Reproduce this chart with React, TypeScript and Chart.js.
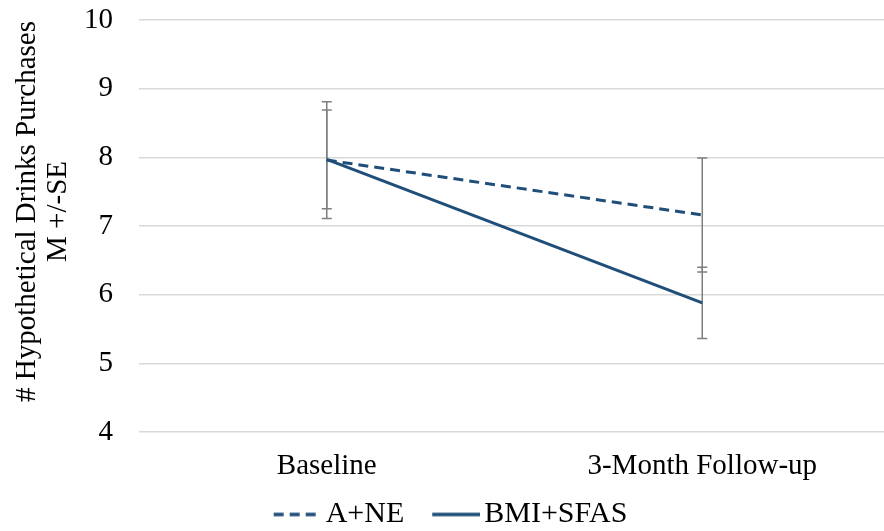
import React, { useEffect, useRef } from "react";
import { Chart, registerables } from "chart.js";

Chart.register(...registerables);

const categories = ["Baseline", "3-Month Follow-up"];
const seriesNames = ["A+NE", "BMI+SFAS"];
const aneMeans = [7.96, 7.16];
const aneSE = [0.85, 0.83];
const bmiMeans = [7.97, 5.88];
const bmiSE = [0.72, 0.52];
const yTicks = [4, 5, 6, 7, 8, 9, 10];
const yTitle = ["    # Hypothetical Drinks Purchases", "    M +/-SE"];

const LINE_COLOR = "#1f4e79";
const ERR_COLOR = "#7f7f7f";
const FONT = "'Liberation Serif', 'Times New Roman', serif";
const DASH = [10, 6];

function legendMarker(dash: number[]) {
  const c = document.createElement("canvas");
  c.width = 70;
  c.height = 6;
  const g = c.getContext("2d")!;
  g.strokeStyle = LINE_COLOR;
  g.lineWidth = 3.5;
  g.setLineDash(dash);
  g.beginPath();
  g.moveTo(22, 3);
  g.lineTo(70, 3);
  g.stroke();
  return c;
}

const errorBarPlugin = {
  id: "errorBars",
  beforeDatasetsDraw(chart: any) {
    const { ctx, scales } = chart;
    const x = scales.x;
    const y = scales.y;
    const sets = [
      { m: aneMeans, e: aneSE },
      { m: bmiMeans, e: bmiSE },
    ];
    ctx.save();
    ctx.strokeStyle = ERR_COLOR;
    ctx.lineWidth = 1.5;
    sets.forEach((s) => {
      s.m.forEach((mean, i) => {
        const px = x.getPixelForValue(i);
        const top = y.getPixelForValue(mean + s.e[i]);
        const bot = y.getPixelForValue(mean - s.e[i]);
        ctx.beginPath();
        ctx.moveTo(px, top);
        ctx.lineTo(px, bot);
        ctx.moveTo(px - 5, top);
        ctx.lineTo(px + 5, top);
        ctx.moveTo(px - 5, bot);
        ctx.lineTo(px + 5, bot);
        ctx.stroke();
      });
    });
    ctx.restore();
  },
};

export default function App() {
  const ref = useRef<HTMLCanvasElement | null>(null);
  useEffect(() => {
    document.body.style.margin = "0";
    const markers = [legendMarker(DASH), legendMarker([])];
    const chart = new Chart(ref.current!, {
      type: "line",
      data: {
        labels: categories,
        datasets: [
          {
            label: seriesNames[0],
            data: aneMeans,
            borderColor: LINE_COLOR,
            backgroundColor: LINE_COLOR,
            borderWidth: 3,
            borderDash: DASH,
            pointRadius: 0,
            fill: false,
          },
          {
            label: seriesNames[1],
            data: bmiMeans,
            borderColor: LINE_COLOR,
            backgroundColor: LINE_COLOR,
            borderWidth: 3,
            pointRadius: 0,
            fill: false,
          },
        ],
      },
      options: {
        animation: false,
        responsive: true,
        maintainAspectRatio: false,
        layout: { padding: { left: 0, right: 0, top: 20, bottom: -8.5 } },
        plugins: {
          tooltip: { enabled: false },
          legend: {
            position: "bottom",
            labels: {
              color: "#000",
              font: { family: FONT, size: 30 },
              usePointStyle: true,
              pointStyleWidth: 48,
              padding: 17,
              generateLabels: (chart: any) =>
                chart.data.datasets.map((ds: any, i: number) => ({
                  text: ds.label,
                  fillStyle: LINE_COLOR,
                  strokeStyle: LINE_COLOR,
                  lineWidth: 0,
                  pointStyle: markers[i],
                  fontColor: "#000",
                  datasetIndex: i,
                  hidden: false,
                })),
            },
          },
        },
        scales: {
          x: {
            offset: true,
            grid: { display: false, drawTicks: false },
            border: { display: false },
            ticks: {
              color: "#000",
              font: { family: FONT, size: 29 },
              padding: 16.6,
            },
            afterFit: (scale: any) => {
              scale.height = 50.5;
              scale.paddingLeft = 0;
              scale.paddingRight = 0;
            },
          },
          y: {
            min: 4,
            max: 10,
            afterBuildTicks: (axis: any) => {
              axis.ticks = yTicks.map((v) => ({ value: v }));
            },
            afterFit: (scale: any) => {
              scale.width = 139;
              scale.paddingTop = 0;
              scale.paddingBottom = 0;
            },
            grid: { color: "#d9d9d9", lineWidth: 1.5, drawTicks: false },
            border: { display: false },
            ticks: {
              color: "#000",
              font: { family: FONT, size: 29 },
              padding: 26,
            },
            title: {
              display: true,
              text: yTitle,
              color: "#000",
              font: { family: FONT, size: 29, lineHeight: 1.07 },
              padding: { top: 12, bottom: 0 },
            },
          },
        },
      },
      plugins: [errorBarPlugin],
    });
    return () => chart.destroy();
  }, []);
  return (
    <div style={{ width: 884, height: 531, overflow: "hidden" }}>
      <div style={{ width: 890, height: 531 }}>
        <canvas ref={ref} />
      </div>
    </div>
  );
}
